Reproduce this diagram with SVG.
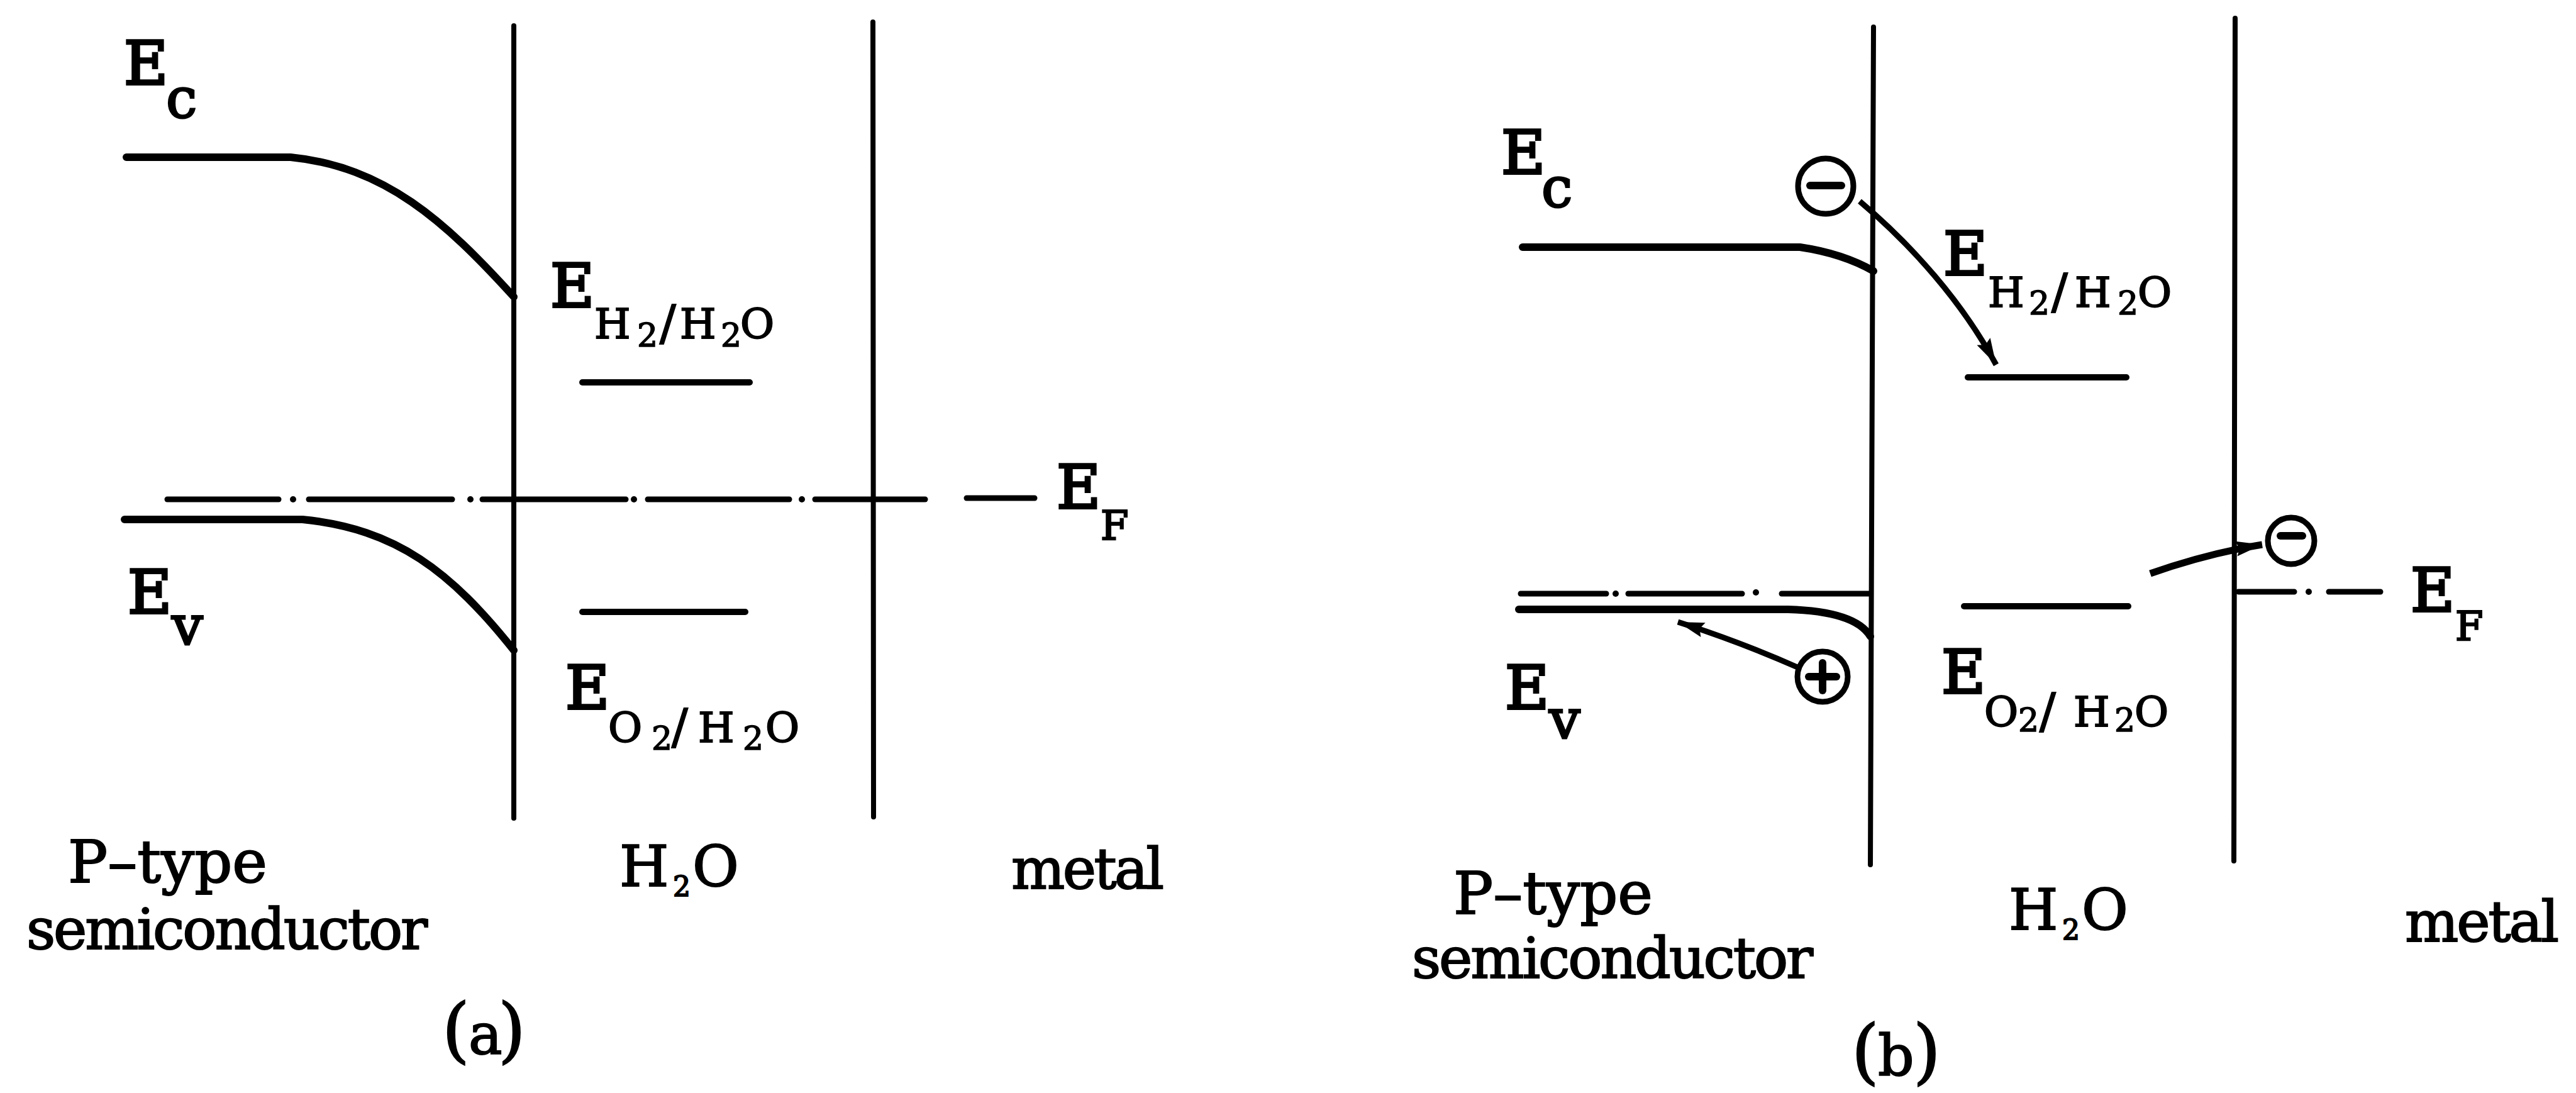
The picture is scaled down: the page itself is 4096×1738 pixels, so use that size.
<svg xmlns="http://www.w3.org/2000/svg" width="4096" height="1738" viewBox="0 0 4096 1738">
<defs>
<style>
.ln{stroke:#000;fill:none;stroke-linecap:round;stroke-linejoin:round}
.wall{stroke-width:8}
.band{stroke-width:12}
.lvl{stroke-width:10}
.ef{stroke-width:9}
.dot{fill:#000}
.chg{stroke:#000;fill:none;stroke-width:9}
.bar{stroke:#000;stroke-width:12;stroke-linecap:round}
.arr{stroke:#000;fill:none;stroke-linecap:butt}
.t{font-family:"DejaVu Serif","Liberation Serif",serif;fill:#000}
.lbl{font-size:90px;stroke:#000;stroke-width:2}
.E{font-size:96px;stroke:#000;stroke-width:4}
.cv{font-size:88px;stroke:#000;stroke-width:3}
.sub{font-size:66px;stroke:#000;stroke-width:2}
.sl{font-size:76px}
.d{font-size:52px;stroke:#000;stroke-width:1.5}
.F{font-size:64px;stroke:#000;stroke-width:2.5}
</style>
<marker id="ah" viewBox="-46 -14 48 28" refX="0" refY="0" markerWidth="48" markerHeight="28" markerUnits="userSpaceOnUse" orient="auto">
<path d="M0,0 L-42,-12 L-36,0 L-42,12 Z" fill="#000"/>
</marker>
</defs>
<rect width="4096" height="1738" fill="#fff"/>

<!-- Panel (a) -->
<g id="a-walls">
<line class="ln wall" x1="817" y1="41" x2="817" y2="1301"/>
<line class="ln wall" x1="1388" y1="35" x2="1389" y2="1299"/>
</g>
<g id="a-Ec">
<path class="ln band" d="M201,250 L462,250 C612,265 707,351 817,472"/>
<text class="t E" x="197" y="134">E</text>
<text class="t cv" x="264" y="187">c</text>
</g>
<g id="a-Ev">
<path class="ln band" d="M198,826 L481,826 C631,841 717,909 817,1034"/>
<text class="t E" x="203" y="975">E</text>
<text class="t cv" x="273" y="1025">v</text>
</g>
<g id="a-EH2">
<line class="ln lvl" x1="926" y1="608" x2="1192" y2="608"/>
<text class="t E" x="875" y="488">E</text>
<text class="t sub" y="538"><tspan x="945">H</tspan><tspan class="d" x="1013" y="551">2</tspan><tspan class="sl" x="1049" y="540">/</tspan><tspan x="1081" y="538">H</tspan><tspan class="d" x="1146" y="551">2</tspan><tspan x="1177" y="538">O</tspan></text>
</g>
<g id="a-EO2">
<line class="ln lvl" x1="926" y1="973" x2="1185" y2="973"/>
<text class="t E" x="899" y="1127">E</text>
<text class="t sub" y="1180"><tspan x="967">O</tspan><tspan class="d" x="1036" y="1192">2</tspan><tspan class="sl" x="1068" y="1182">/</tspan><tspan x="1110" y="1180">H</tspan><tspan class="d" x="1181" y="1192">2</tspan><tspan x="1217" y="1180">O</tspan></text>
</g>
<g id="a-EF">
<g class="ln ef">
<line x1="266" y1="794" x2="443" y2="794"/>
<line x1="491" y1="794" x2="719" y2="794"/>
<line x1="767" y1="794" x2="995" y2="794"/>
<line x1="1030" y1="794" x2="1255" y2="794"/>
<line x1="1296" y1="794" x2="1471" y2="794"/>
<line x1="1537" y1="792" x2="1645" y2="792"/>
</g>
<circle class="dot" cx="466" cy="794" r="5"/>
<circle class="dot" cx="748" cy="794" r="5"/>
<circle class="dot" cx="1008" cy="794" r="5"/>
<circle class="dot" cx="1275" cy="794" r="5"/>
<text class="t E" x="1680" y="808">E</text>
<text class="t F" x="1750" y="858">F</text>
</g>
<g id="a-labels">
<text class="t lbl" x="108" y="1403" style="font-size:94px">P–type</text>
<text class="t lbl" x="42" y="1509" textLength="638">semiconductor</text>
<text class="t lbl" y="1409"><tspan x="985">H</tspan><tspan style="font-size:44px" x="1070" y="1425">2</tspan><tspan x="1101" y="1409">O</tspan></text>
<text class="t lbl" x="1608" y="1413" textLength="243">metal</text>
<text class="t lbl" y="1676"><tspan style="font-size:112px" x="703">(</tspan><tspan x="745">a</tspan><tspan style="font-size:112px" x="792">)</tspan></text>
</g>

<!-- Panel (b) -->
<g id="b-walls">
<line class="ln wall" x1="2979" y1="43" x2="2974" y2="1375"/>
<line class="ln wall" x1="3554" y1="29" x2="3552" y2="1369"/>
</g>
<g id="b-Ec">
<path class="ln band" d="M2421,393 L2862,393 Q2930,403 2979,431"/>
<text class="t E" x="2387" y="276">E</text>
<text class="t cv" x="2451" y="329">c</text>
</g>
<g id="b-Ev">
<path class="ln band" d="M2415,969 L2843,969 Q2950,972 2974,1012"/>
<text class="t E" x="2393" y="1127">E</text>
<text class="t cv" x="2463" y="1174">v</text>
</g>
<g id="b-EF-sc">
<g class="ln ef">
<line x1="2418" y1="944" x2="2554" y2="944"/>
<line x1="2589" y1="944" x2="2770" y2="944"/>
<line x1="2833" y1="944" x2="2974" y2="944"/>
</g>
<circle class="dot" cx="2569" cy="944" r="5"/>
<circle class="dot" cx="2792" cy="942" r="5"/>
</g>
<g id="b-EH2">
<line class="ln lvl" x1="3129" y1="600" x2="3381" y2="600"/>
<text class="t E" x="3090" y="437">E</text>
<text class="t sub" y="488"><tspan x="3161">H</tspan><tspan class="d" x="3226" y="500">2</tspan><tspan class="sl" x="3262" y="490">/</tspan><tspan x="3299" y="488">H</tspan><tspan class="d" x="3367" y="500">2</tspan><tspan x="3399" y="488">O</tspan></text>
</g>
<g id="b-EO2">
<line class="ln lvl" x1="3123" y1="964" x2="3384" y2="964"/>
<text class="t E" x="3087" y="1102">E</text>
<text class="t sub" y="1155"><tspan x="3155">O</tspan><tspan class="d" x="3209" y="1163">2</tspan><tspan class="sl" x="3243" y="1157">/</tspan><tspan x="3297" y="1155">H</tspan><tspan class="d" x="3362" y="1163">2</tspan><tspan x="3394" y="1155">O</tspan></text>
</g>
<g id="b-EF-metal">
<g class="ln ef">
<line x1="3559" y1="941" x2="3648" y2="941"/>
<line x1="3703" y1="941" x2="3785" y2="941"/>
</g>
<circle class="dot" cx="3671" cy="941" r="5"/>
<text class="t E" x="3833" y="972">E</text>
<text class="t F" x="3904" y="1018">F</text>
</g>
<g id="b-electron1">
<circle class="chg" cx="2903" cy="296" r="44"/>
<line class="bar" x1="2878" y1="295" x2="2928" y2="295"/>
</g>
<g id="b-hole">
<circle class="chg" cx="2898" cy="1076" r="40"/>
<line class="bar" x1="2876" y1="1076" x2="2920" y2="1076"/>
<line class="bar" x1="2898" y1="1054" x2="2898" y2="1098"/>
</g>
<g id="b-electron2">
<circle class="chg" cx="3643" cy="860" r="37"/>
<line class="bar" x1="3626" y1="852" x2="3661" y2="852"/>
</g>
<g id="b-labels">
<text class="t lbl" x="2311" y="1453" style="font-size:94px">P–type</text>
<text class="t lbl" x="2245" y="1555" textLength="638">semiconductor</text>
<text class="t lbl" y="1478"><tspan x="3194">H</tspan><tspan style="font-size:44px" x="3279" y="1494">2</tspan><tspan x="3310" y="1478">O</tspan></text>
<text class="t lbl" x="3824" y="1497" textLength="245">metal</text>
<text class="t lbl" y="1710"><tspan style="font-size:112px" x="2944">(</tspan><tspan x="2986">b</tspan><tspan style="font-size:112px" x="3042">)</tspan></text>
</g>

<g id="connectors">
<path class="arr" stroke-width="9" marker-end="url(#ah)" d="M2957,320 C3040,390 3120,480 3174,580"/>
<path class="arr" stroke-width="11" marker-end="url(#ah)" d="M3419,912 Q3510,880 3597,866"/>
<path class="arr" stroke-width="9" marker-end="url(#ah)" d="M2858,1061 Q2760,1018 2668,989"/>
</g>
</svg>
